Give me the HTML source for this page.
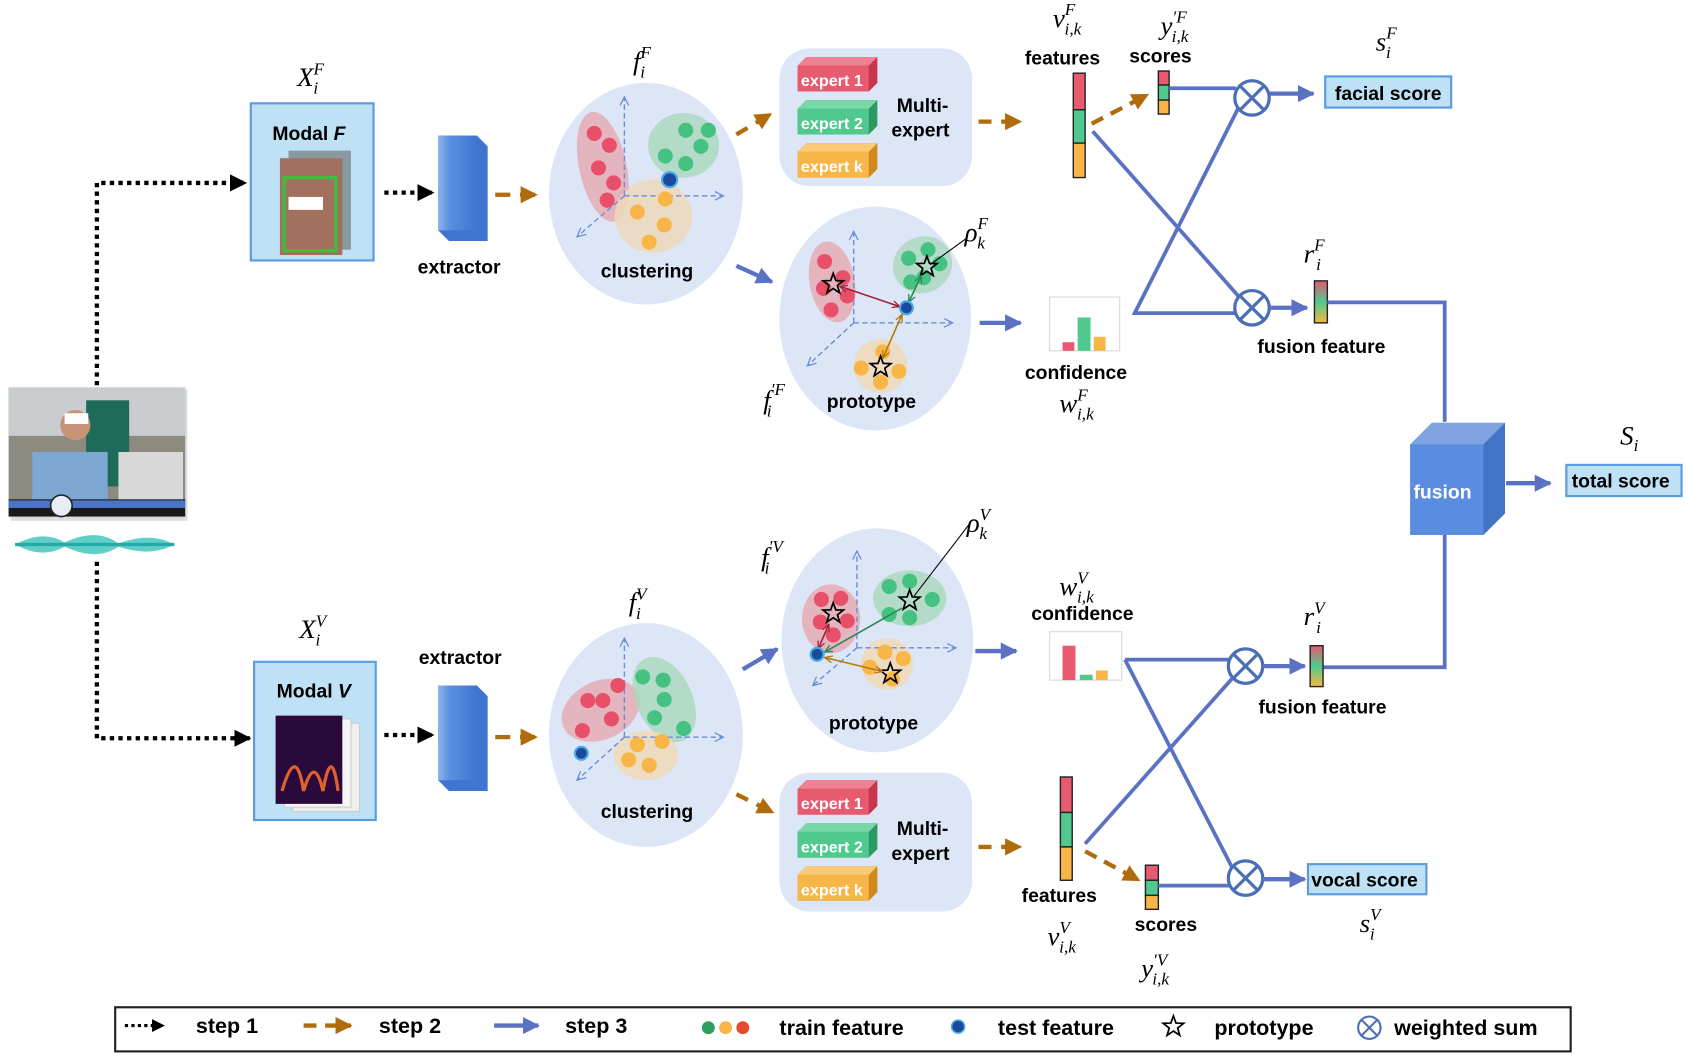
<!DOCTYPE html>
<html><head><meta charset="utf-8"><style>
html,body{margin:0;padding:0;background:#fff;}
svg{display:block;}
.b{font-family:"Liberation Sans",sans-serif;font-weight:bold;font-size:18px;fill:#000;}
.w{font-family:"Liberation Sans",sans-serif;font-weight:bold;font-size:15px;fill:#fff;}
.m{font-family:"Liberation Serif",serif;font-style:italic;font-size:25px;fill:#000;}
.s{font-size:16px;}
</style></head><body>
<svg width="1688" height="1060" viewBox="0 0 1568 985" preserveAspectRatio="none" xmlns="http://www.w3.org/2000/svg">
<defs>
<marker id="ab" viewBox="0 0 10 10" refX="9" refY="5" markerWidth="4" markerHeight="4" orient="auto" markerUnits="strokeWidth"><path d="M0,0L10,5L0,10z" fill="#5b72c4"/></marker>
<marker id="ao" viewBox="0 0 10 10" refX="9" refY="5" markerWidth="4" markerHeight="4" orient="auto" markerUnits="strokeWidth"><path d="M0,0L10,5L0,10z" fill="#b06c0c"/></marker>
<marker id="ak" viewBox="0 0 10 10" refX="9" refY="5" markerWidth="4" markerHeight="4" orient="auto" markerUnits="strokeWidth"><path d="M0,0L10,5L0,10z" fill="#000"/></marker>
<marker id="ad" viewBox="0 0 10 10" refX="9" refY="5" markerWidth="10" markerHeight="10" orient="auto" markerUnits="userSpaceOnUse"><path d="M1,1L9,5L1,9" fill="none" stroke="#6a8fd8" stroke-width="1.2"/></marker>
<marker id="ar" viewBox="0 0 10 10" refX="9" refY="5" markerWidth="8" markerHeight="8" orient="auto-start-reverse" markerUnits="userSpaceOnUse"><path d="M0,1L9,5L0,9" fill="none" stroke="#a0203a" stroke-width="1.5"/></marker>
<marker id="ag" viewBox="0 0 10 10" refX="9" refY="5" markerWidth="8" markerHeight="8" orient="auto-start-reverse" markerUnits="userSpaceOnUse"><path d="M0,1L9,5L0,9" fill="none" stroke="#2a8a55" stroke-width="1.5"/></marker>
<marker id="ay" viewBox="0 0 10 10" refX="9" refY="5" markerWidth="8" markerHeight="8" orient="auto-start-reverse" markerUnits="userSpaceOnUse"><path d="M0,1L9,5L0,9" fill="none" stroke="#b8780c" stroke-width="1.5"/></marker>
<linearGradient id="gf" x1="0" y1="0" x2="0" y2="1"><stop offset="0" stop-color="#e8586e"/><stop offset="0.5" stop-color="#4fc98e"/><stop offset="1" stop-color="#f5b840"/></linearGradient>
<linearGradient id="ex" x1="0" y1="0" x2="1" y2="0"><stop offset="0" stop-color="#8fb3ea"/><stop offset="0.3" stop-color="#5b8fe0"/><stop offset="1" stop-color="#3f75d0"/></linearGradient>
<g id="star"><path d="M0,-10L2.4,-3.3L9.5,-3.1L3.9,1.3L5.9,8.1L0,4.1L-5.9,8.1L-3.9,1.3L-9.5,-3.1L-2.4,-3.3Z" fill="none" stroke="#000" stroke-width="1.6"/></g>
<g id="ot"><circle r="16" fill="#fff" stroke="#4a6fb5" stroke-width="3"/><path d="M-11.3,-11.3L11.3,11.3M11.3,-11.3L-11.3,11.3" stroke="#4a6fb5" stroke-width="3"/></g>
<g id="exp">
<path d="M0,8L8,0L74,0L74,24L66,32L0,32Z" fill="#c8364e"/>
</g>
</defs>

<!-- video thumbnail -->
<rect x="10" y="362" width="164" height="122" fill="#bbb" opacity="0.5"/>
<rect x="8" y="360" width="164" height="120" fill="#8d8a80"/>
<rect x="8" y="360" width="164" height="45" fill="#c9cdd0"/>
<rect x="80" y="372" width="40" height="80" fill="#1e6b5a"/>
<rect x="30" y="420" width="70" height="48" fill="#7ea8d4"/>
<rect x="110" y="420" width="60" height="45" fill="#d8d8d8"/>
<circle cx="70" cy="395" r="14" fill="#c89478"/>
<rect x="60" y="384" width="22" height="10" fill="#fff"/>
<rect x="8" y="464" width="164" height="16" fill="#1a1a1a"/>
<rect x="8" y="465" width="164" height="7" fill="#4a74c8"/>
<circle cx="57" cy="470" r="10" fill="#e8ecf6" stroke="#222" stroke-width="1.5"/>
<path d="M14,506 Q40,492 60,504 Q90,490 110,505 Q140,494 162,506 Q140,518 110,508 Q90,522 60,508 Q40,520 14,506Z" fill="#2bbfb5" opacity="0.75"/>
<path d="M14,506L162,506" stroke="#27a9a8" stroke-width="3"/>

<!-- dotted step1 -->
<path d="M90,358V170H228" fill="none" stroke="#000" stroke-width="4" stroke-dasharray="4,4" marker-end="url(#ak)"/>
<path d="M90,522V686H232" fill="none" stroke="#000" stroke-width="4" stroke-dasharray="4,4" marker-end="url(#ak)"/>

<!-- Modal F -->
<text class="m" x="276" y="80">X<tspan class="s" dy="-11">F</tspan><tspan class="s" dx="-10" dy="18">i</tspan></text>
<rect x="233" y="96" width="114" height="146" fill="#bfe1f5" stroke="#5b9be0" stroke-width="2"/>
<text class="b" x="253" y="130">Modal <tspan font-style="italic">F</tspan></text>
<rect x="268" y="140" width="58" height="92" fill="#8899a0"/>
<rect x="260" y="147" width="58" height="90" fill="#a37060"/>
<rect x="264" y="165" width="48" height="68" fill="none" stroke="#3cbf3c" stroke-width="3"/>
<rect x="268" y="183" width="32" height="12" fill="#fff"/>

<path d="M357,179H402" stroke="#000" stroke-width="4" stroke-dasharray="4,4" marker-end="url(#ak)"/>
<!-- extractor F -->
<path d="M407,126L443,126L453,136L453,224L417,224L407,214Z" fill="#3f75d0"/>
<rect x="407" y="126" width="36" height="88" fill="url(#ex)"/>
<text class="b" x="388" y="254">extractor</text>
<path d="M460,181H498" stroke="#b06c0c" stroke-width="4" stroke-dasharray="14,9" marker-end="url(#ao)"/>

<!-- clustering F -->
<text class="m" x="588" y="65">f<tspan class="s" dy="-11">F</tspan><tspan class="s" dx="-10" dy="18">i</tspan></text>
<ellipse cx="600" cy="180" rx="90" ry="103" fill="#dce6f6"/>
<ellipse cx="560" cy="155" rx="22" ry="52" transform="rotate(-12 560 155)" fill="#e8a0a8" opacity="0.7"/>
<ellipse cx="635" cy="135" rx="33" ry="30" fill="#a9d8bd" opacity="0.8"/>
<ellipse cx="607" cy="201" rx="36" ry="34" fill="#f0d8b8" opacity="0.8"/>
<path d="M580,182V90" stroke="#6a8fd8" stroke-width="1.3" stroke-dasharray="5,3" marker-end="url(#ad)"/>
<path d="M580,182H672" stroke="#6a8fd8" stroke-width="1.3" stroke-dasharray="5,3" marker-end="url(#ad)"/>
<path d="M580,182L536,220" stroke="#6a8fd8" stroke-width="1.3" stroke-dasharray="5,3" marker-end="url(#ad)"/>
<g fill="#e8506a"><circle cx="552" cy="124" r="7"/><circle cx="566" cy="135" r="7"/><circle cx="556" cy="156" r="7"/><circle cx="570" cy="170" r="7"/><circle cx="564" cy="186" r="7"/></g>
<g fill="#45c182"><circle cx="637" cy="121" r="7"/><circle cx="658" cy="121" r="7"/><circle cx="651" cy="136" r="7"/><circle cx="618" cy="145" r="7"/><circle cx="637" cy="152" r="7"/></g>
<g fill="#f8b648"><circle cx="618" cy="185" r="7"/><circle cx="592" cy="197" r="7"/><circle cx="617" cy="209" r="7"/><circle cx="603" cy="225" r="7"/></g>
<circle cx="622" cy="167" r="7" fill="#1a4a9a" stroke="#4aa8e8" stroke-width="2"/>
<text class="b" x="558" y="258">clustering</text>

<path d="M684,125L716,106" stroke="#b06c0c" stroke-width="4" stroke-dasharray="12,9" marker-end="url(#ao)"/>
<path d="M684,247L717,262" stroke="#5b72c4" stroke-width="4" marker-end="url(#ab)"/>

<!-- multi-expert F -->
<rect x="724" y="45" width="179" height="128" rx="28" fill="#dce6f6"/>
<g>
<path d="M741,61L749,53H815V77L807,85H741Z" fill="#c8364e"/><rect x="741" y="61" width="66" height="24" fill="#e85a70"/><path d="M741,61L749,53H815L807,61Z" fill="#ef8292"/>
<text class="w" x="744" y="80">expert 1</text>
<path d="M741,101L749,93H815V117L807,125H741Z" fill="#2d9a62"/><rect x="741" y="101" width="66" height="24" fill="#4fc98e"/><path d="M741,101L749,93H815L807,101Z" fill="#78d8a8"/>
<text class="w" x="744" y="120">expert 2</text>
<path d="M741,141L749,133H815V157L807,165H741Z" fill="#d08a1c"/><rect x="741" y="141" width="66" height="24" fill="#f8b648"/><path d="M741,141L749,133H815L807,141Z" fill="#fbcb78"/>
<text class="w" x="744" y="160">expert k</text>
</g>
<text class="b" x="833" y="104">Multi-</text>
<text class="b" x="828" y="127">expert</text>
<path d="M909,113H948" stroke="#b06c0c" stroke-width="4" stroke-dasharray="12,9" marker-end="url(#ao)"/>

<!-- prototype F -->
<ellipse cx="813" cy="296" rx="89" ry="104" fill="#dce6f6"/>
<ellipse cx="773" cy="262" rx="21" ry="38" transform="rotate(-10 773 262)" fill="#e8a0a8" opacity="0.7"/>
<ellipse cx="857" cy="246" rx="28" ry="26" transform="rotate(-30 857 246)" fill="#a9d8bd" opacity="0.8"/>
<circle cx="818" cy="340" r="25" fill="#f0d8b8" opacity="0.85"/>
<path d="M793,300V215" stroke="#6a8fd8" stroke-width="1.3" stroke-dasharray="5,3" marker-end="url(#ad)"/>
<path d="M793,300H885" stroke="#6a8fd8" stroke-width="1.3" stroke-dasharray="5,3" marker-end="url(#ad)"/>
<path d="M793,300L750,340" stroke="#6a8fd8" stroke-width="1.3" stroke-dasharray="5,3" marker-end="url(#ad)"/>
<g fill="#e8506a"><circle cx="766" cy="243" r="7"/><circle cx="783" cy="258" r="7"/><circle cx="765" cy="268" r="7"/><circle cx="787" cy="275" r="7"/><circle cx="772" cy="288" r="7"/></g>
<g fill="#45c182"><circle cx="862" cy="232" r="7"/><circle cx="844" cy="240" r="7"/><circle cx="873" cy="245" r="7"/><circle cx="846" cy="262" r="7"/><circle cx="858" cy="258" r="7"/></g>
<g fill="#f8b648"><circle cx="820" cy="327" r="7"/><circle cx="800" cy="342" r="7"/><circle cx="835" cy="345" r="7"/><circle cx="818" cy="355" r="7"/></g>
<use href="#star" x="774" y="264"/><use href="#star" x="861" y="248"/><use href="#star" x="818" y="341"/>
<path d="M780,266L836,285" stroke="#a0203a" stroke-width="1.5" marker-start="url(#ar)" marker-end="url(#ar)"/>
<path d="M856,256L844,281" stroke="#2a8a55" stroke-width="1.5" marker-start="url(#ag)" marker-end="url(#ag)"/>
<path d="M838,292L820,333" stroke="#b8780c" stroke-width="1.5" marker-start="url(#ay)" marker-end="url(#ay)"/>
<circle cx="842" cy="286" r="6" fill="#1a4a9a" stroke="#4aa8e8" stroke-width="2"/>
<path d="M864,246L897,222" stroke="#000" stroke-width="1"/>
<text class="m" x="896" y="224">ρ<tspan class="s" dy="-11">F</tspan><tspan class="s" dx="-10" dy="18">k</tspan></text>
<text class="m" x="709" y="380">f<tspan class="s" dy="-13">′F</tspan><tspan class="s" dx="-17" dy="20">i</tspan></text>
<text class="b" x="768" y="379">prototype</text>
<path d="M910,300H948" stroke="#5b72c4" stroke-width="4" marker-end="url(#ab)"/>

<!-- features / scores F -->
<text class="m" x="978" y="25">v<tspan class="s" dy="-11">F</tspan><tspan class="s" dx="-10" dy="18">i,k</tspan></text>
<text class="b" x="952" y="60">features</text>
<rect x="997" y="68" width="11" height="34" fill="#e85a70" stroke="#222" stroke-width="1.3"/>
<rect x="997" y="102" width="11" height="31" fill="#4fc98e" stroke="#222" stroke-width="1.3"/>
<rect x="997" y="133" width="11" height="32" fill="#f8b648" stroke="#222" stroke-width="1.3"/>
<text class="m" x="1078" y="32">y<tspan class="s" dy="-11">′F</tspan><tspan class="s" dx="-14" dy="18">i,k</tspan></text>
<text class="b" x="1049" y="58">scores</text>
<rect x="1076" y="66" width="10" height="13" fill="#e85a70" stroke="#222" stroke-width="1.3"/>
<rect x="1076" y="79" width="10" height="14" fill="#4fc98e" stroke="#222" stroke-width="1.3"/>
<rect x="1076" y="93" width="10" height="13" fill="#f8b648" stroke="#222" stroke-width="1.3"/>
<path d="M1014,115L1066,88" stroke="#b06c0c" stroke-width="4" stroke-dasharray="12,8" marker-end="url(#ao)"/>
<path d="M1086,82H1148" stroke="#5b72c4" stroke-width="3.5"/>
<path d="M1015,122L1152,277" stroke="#5b72c4" stroke-width="3.5"/>
<path d="M1150,101L1054,291H1147" fill="none" stroke="#5b72c4" stroke-width="3.5"/>
<use href="#ot" x="1163" y="91"/><use href="#ot" x="1163" y="286"/>
<path d="M1179,87H1220" stroke="#5b72c4" stroke-width="4" marker-end="url(#ab)"/>
<text class="m" x="1278" y="47">s<tspan class="s" dy="-11">F</tspan><tspan class="s" dx="-10" dy="18">i</tspan></text>
<rect x="1231" y="71" width="117" height="29" fill="#bfe1f5" stroke="#5b9be0" stroke-width="2"/>
<text class="b" x="1240" y="93">facial score</text>
<!-- confidence F -->
<rect x="975" y="276" width="65" height="50" fill="#fff" stroke="#ddd" stroke-width="1.2"/>
<rect x="987" y="318" width="11" height="8" fill="#e85a70"/><rect x="1001" y="295" width="12" height="31" fill="#4fc98e"/><rect x="1016" y="313" width="11" height="13" fill="#f8b648"/>
<text class="b" x="952" y="352">confidence</text>
<text class="m" x="984" y="383">w<tspan class="s" dy="-11">F</tspan><tspan class="s" dx="-10" dy="18">i,k</tspan></text>
<path d="M1179,286H1214" stroke="#5b72c4" stroke-width="4" marker-end="url(#ab)"/>
<text class="m" x="1211" y="244">r<tspan class="s" dy="-11">F</tspan><tspan class="s" dx="-8" dy="18">i</tspan></text>
<rect x="1221" y="261" width="12" height="39" fill="url(#gf)" stroke="#222" stroke-width="1.3"/>
<text class="b" x="1168" y="328">fusion feature</text>
<path d="M1233,281H1342V392" fill="none" stroke="#5b72c4" stroke-width="3.5"/>

<!-- fusion -->
<path d="M1310,413L1330,393H1398V477L1378,497H1310Z" fill="#3f6fc0"/>
<path d="M1310,413L1330,393H1398L1378,413Z" fill="#7ea3e0"/>
<rect x="1310" y="413" width="68" height="84" fill="#5a8de0"/>
<path d="M1378,413L1398,393V477L1378,497Z" fill="#4373c4"/>
<text x="1313" y="463" style="font-family:'Liberation Sans',sans-serif;font-weight:bold;font-size:18px;fill:#fff">fusion</text>
<path d="M1399,449H1440" stroke="#5b72c4" stroke-width="4" marker-end="url(#ab)"/>
<text class="m" x="1505" y="413">S<tspan class="s" dx="0" dy="6">i</tspan></text>
<rect x="1455" y="432" width="107" height="29" fill="#bfe1f5" stroke="#5b9be0" stroke-width="2"/>
<text class="b" x="1460" y="453">total score</text>
<path d="M1342,497V620H1229" fill="none" stroke="#5b72c4" stroke-width="3.5"/>

<!-- Modal V -->
<text class="m" x="278" y="593">X<tspan class="s" dy="-11">V</tspan><tspan class="s" dx="-10" dy="18">i</tspan></text>
<rect x="236" y="615" width="113" height="147" fill="#bfe1f5" stroke="#5b9be0" stroke-width="2"/>
<text class="b" x="257" y="648">Modal <tspan font-style="italic">V</tspan></text>
<rect x="272" y="672" width="62" height="82" fill="#eee" stroke="#ccc"/>
<rect x="264" y="668" width="62" height="82" fill="#f5f5f5" stroke="#ccc"/>
<rect x="256" y="665" width="62" height="82" fill="#2a0a3a"/>
<path d="M262,735Q275,690 282,735Q292,700 300,735Q308,690 314,735" fill="none" stroke="#e06030" stroke-width="3"/>
<path d="M357,683H402" stroke="#000" stroke-width="4" stroke-dasharray="4,4" marker-end="url(#ak)"/>
<path d="M407,637L443,637L453,647L453,735L417,735L407,725Z" fill="#3f75d0"/>
<rect x="407" y="637" width="36" height="88" fill="url(#ex)"/>
<text class="b" x="389" y="617">extractor</text>
<path d="M460,685H498" stroke="#b06c0c" stroke-width="4" stroke-dasharray="14,9" marker-end="url(#ao)"/>

<!-- clustering V -->
<text class="m" x="584" y="568">f<tspan class="s" dy="-11">V</tspan><tspan class="s" dx="-10" dy="18">i</tspan></text>
<ellipse cx="600" cy="683" rx="90" ry="104" fill="#dce6f6"/>
<ellipse cx="558" cy="660" rx="38" ry="27" transform="rotate(-25 558 660)" fill="#e8a0a8" opacity="0.7"/>
<ellipse cx="617" cy="650" rx="26" ry="42" transform="rotate(-25 617 650)" fill="#a9d8bd" opacity="0.8"/>
<ellipse cx="600" cy="702" rx="30" ry="23" fill="#f0d8b8" opacity="0.85"/>
<path d="M580,685V593" stroke="#6a8fd8" stroke-width="1.3" stroke-dasharray="5,3" marker-end="url(#ad)"/>
<path d="M580,685H672" stroke="#6a8fd8" stroke-width="1.3" stroke-dasharray="5,3" marker-end="url(#ad)"/>
<path d="M580,685L536,725" stroke="#6a8fd8" stroke-width="1.3" stroke-dasharray="5,3" marker-end="url(#ad)"/>
<g fill="#e8506a"><circle cx="574" cy="637" r="7"/><circle cx="546" cy="651" r="7"/><circle cx="560" cy="651" r="7"/><circle cx="568" cy="668" r="7"/><circle cx="541" cy="679" r="7"/></g>
<g fill="#45c182"><circle cx="597" cy="629" r="7"/><circle cx="616" cy="632" r="7"/><circle cx="617" cy="650" r="7"/><circle cx="608" cy="667" r="7"/><circle cx="635" cy="677" r="7"/></g>
<g fill="#f8b648"><circle cx="615" cy="689" r="7"/><circle cx="592" cy="692" r="7"/><circle cx="584" cy="706" r="7"/><circle cx="603" cy="711" r="7"/></g>
<circle cx="540" cy="700" r="6" fill="#1a4a9a" stroke="#4aa8e8" stroke-width="2"/>
<text class="b" x="558" y="760">clustering</text>
<path d="M690,622L722,603" stroke="#5b72c4" stroke-width="4" marker-end="url(#ab)"/>
<path d="M684,738L718,755" stroke="#b06c0c" stroke-width="4" stroke-dasharray="12,9" marker-end="url(#ao)"/>

<!-- prototype V -->
<ellipse cx="815" cy="595" rx="89" ry="104" fill="#dce6f6"/>
<ellipse cx="772" cy="575" rx="27" ry="32" fill="#e8a0a8" opacity="0.7"/>
<ellipse cx="845" cy="556" rx="34" ry="26" fill="#a9d8bd" opacity="0.8"/>
<circle cx="824" cy="617" r="24" fill="#f0d8b8" opacity="0.85"/>
<path d="M796,602V512" stroke="#6a8fd8" stroke-width="1.3" stroke-dasharray="5,3" marker-end="url(#ad)"/>
<path d="M796,602H888" stroke="#6a8fd8" stroke-width="1.3" stroke-dasharray="5,3" marker-end="url(#ad)"/>
<path d="M796,602L755,637" stroke="#6a8fd8" stroke-width="1.3" stroke-dasharray="5,3" marker-end="url(#ad)"/>
<g fill="#e8506a"><circle cx="763" cy="557" r="7"/><circle cx="781" cy="556" r="7"/><circle cx="762" cy="578" r="7"/><circle cx="787" cy="577" r="7"/><circle cx="774" cy="590" r="7"/></g>
<g fill="#45c182"><circle cx="826" cy="545" r="7"/><circle cx="845" cy="540" r="7"/><circle cx="866" cy="557" r="7"/><circle cx="826" cy="571" r="7"/><circle cx="845" cy="574" r="7"/></g>
<g fill="#f8b648"><circle cx="822" cy="606" r="7"/><circle cx="839" cy="612" r="7"/><circle cx="808" cy="620" r="7"/><circle cx="829" cy="631" r="7"/></g>
<use href="#star" x="774" y="570"/><use href="#star" x="845" y="558"/><use href="#star" x="827" y="626"/>
<path d="M770,580L760,603" stroke="#a0203a" stroke-width="1.5" marker-start="url(#ar)" marker-end="url(#ar)"/>
<path d="M838,565L766,606" stroke="#2a8a55" stroke-width="1.5" marker-end="url(#ag)"/>
<path d="M820,624L766,611" stroke="#b8780c" stroke-width="1.5" marker-start="url(#ay)" marker-end="url(#ay)"/>
<circle cx="759" cy="608" r="6" fill="#1a4a9a" stroke="#4aa8e8" stroke-width="2"/>
<path d="M849,554L902,485" stroke="#000" stroke-width="1"/>
<text class="m" x="898" y="494">ρ<tspan class="s" dy="-11">V</tspan><tspan class="s" dx="-10" dy="18">k</tspan></text>
<text class="m" x="707" y="526">f<tspan class="s" dy="-13">′V</tspan><tspan class="s" dx="-17" dy="20">i</tspan></text>
<text class="b" x="770" y="678">prototype</text>
<path d="M906,605H944" stroke="#5b72c4" stroke-width="4" marker-end="url(#ab)"/>

<!-- multi-expert V -->
<rect x="724" y="718" width="179" height="129" rx="28" fill="#dce6f6"/>
<g>
<path d="M741,733L749,725H815V749L807,757H741Z" fill="#c8364e"/><rect x="741" y="733" width="66" height="24" fill="#e85a70"/><path d="M741,733L749,725H815L807,733Z" fill="#ef8292"/>
<text class="w" x="744" y="752">expert 1</text>
<path d="M741,773L749,765H815V789L807,797H741Z" fill="#2d9a62"/><rect x="741" y="773" width="66" height="24" fill="#4fc98e"/><path d="M741,773L749,765H815L807,773Z" fill="#78d8a8"/>
<text class="w" x="744" y="792">expert 2</text>
<path d="M741,813L749,805H815V829L807,837H741Z" fill="#d08a1c"/><rect x="741" y="813" width="66" height="24" fill="#f8b648"/><path d="M741,813L749,805H815L807,813Z" fill="#fbcb78"/>
<text class="w" x="744" y="832">expert k</text>
</g>
<text class="b" x="833" y="776">Multi-</text>
<text class="b" x="828" y="799">expert</text>
<path d="M909,787H948" stroke="#b06c0c" stroke-width="4" stroke-dasharray="12,9" marker-end="url(#ao)"/>

<!-- conf V -->
<text class="m" x="984" y="553">w<tspan class="s" dy="-11">V</tspan><tspan class="s" dx="-10" dy="18">i,k</tspan></text>
<text class="b" x="958" y="576">confidence</text>
<rect x="975" y="587" width="67" height="45" fill="#fff" stroke="#ddd" stroke-width="1.2"/>
<rect x="987" y="600" width="12" height="32" fill="#e85a70"/><rect x="1003" y="627" width="12" height="5" fill="#4fc98e"/><rect x="1018" y="623" width="11" height="9" fill="#f8b648"/>
<path d="M1045,613H1143" stroke="#5b72c4" stroke-width="3.5"/>
<path d="M1045,613L1145,807" stroke="#5b72c4" stroke-width="3.5"/>
<path d="M1008,784L1145,630" stroke="#5b72c4" stroke-width="3.5"/>
<use href="#ot" x="1157" y="619"/><use href="#ot" x="1157" y="816"/>
<path d="M1173,619H1212" stroke="#5b72c4" stroke-width="4" marker-end="url(#ab)"/>
<text class="m" x="1211" y="581">r<tspan class="s" dy="-11">V</tspan><tspan class="s" dx="-8" dy="18">i</tspan></text>
<rect x="1217" y="600" width="12" height="38" fill="url(#gf)" stroke="#222" stroke-width="1.3"/>
<text class="b" x="1169" y="663">fusion feature</text>

<!-- features/scores V -->
<rect x="985" y="722" width="11" height="33" fill="#e85a70" stroke="#222" stroke-width="1.3"/>
<rect x="985" y="755" width="11" height="32" fill="#4fc98e" stroke="#222" stroke-width="1.3"/>
<rect x="985" y="787" width="11" height="31" fill="#f8b648" stroke="#222" stroke-width="1.3"/>
<text class="b" x="949" y="838">features</text>
<text class="m" x="973" y="878">v<tspan class="s" dy="-11">V</tspan><tspan class="s" dx="-10" dy="18">i,k</tspan></text>
<path d="M1008,791L1058,818" stroke="#b06c0c" stroke-width="4" stroke-dasharray="12,8" marker-end="url(#ao)"/>
<rect x="1064" y="804" width="12" height="14" fill="#e85a70" stroke="#222" stroke-width="1.3"/>
<rect x="1064" y="818" width="12" height="14" fill="#4fc98e" stroke="#222" stroke-width="1.3"/>
<rect x="1064" y="832" width="12" height="13" fill="#f8b648" stroke="#222" stroke-width="1.3"/>
<path d="M1076,823H1142" stroke="#5b72c4" stroke-width="3.5"/>
<text class="b" x="1054" y="865">scores</text>
<text class="m" x="1060" y="908">y<tspan class="s" dy="-11">′V</tspan><tspan class="s" dx="-14" dy="18">i,k</tspan></text>
<path d="M1173,817H1212" stroke="#5b72c4" stroke-width="4" marker-end="url(#ab)"/>
<rect x="1215" y="803" width="110" height="28" fill="#bfe1f5" stroke="#5b9be0" stroke-width="2"/>
<text class="b" x="1218" y="824">vocal score</text>
<text class="m" x="1263" y="866">s<tspan class="s" dy="-11">V</tspan><tspan class="s" dx="-10" dy="18">i</tspan></text>

<!-- legend -->
<rect x="107" y="936" width="1352" height="41" fill="#fff" stroke="#222" stroke-width="2"/>
<path d="M116,953H152" stroke="#000" stroke-width="3" stroke-dasharray="3,3" marker-end="url(#ak)"/>
<text class="b" x="182" y="960" style="font-size:20px">step 1</text>
<path d="M282,953H326" stroke="#b06c0c" stroke-width="4" stroke-dasharray="12,8" marker-end="url(#ao)"/>
<text class="b" x="352" y="960" style="font-size:20px">step 2</text>
<path d="M459,953H500" stroke="#5b72c4" stroke-width="4" marker-end="url(#ab)"/>
<text class="b" x="525" y="960" style="font-size:20px">step 3</text>
<circle cx="658" cy="955" r="6" fill="#2e9e62"/><circle cx="674" cy="955" r="6" fill="#f8b648"/><circle cx="690" cy="955" r="6" fill="#e84a30"/>
<text class="b" x="724" y="962" style="font-size:20px">train feature</text>
<circle cx="890" cy="954" r="6" fill="#1a4a9a" stroke="#4aa8e8" stroke-width="1.5"/>
<text class="b" x="927" y="962" style="font-size:20px">test feature</text>
<use href="#star" x="1090" y="954"/>
<text class="b" x="1128" y="962" style="font-size:20px">prototype</text>
<g transform="translate(1272,955) scale(0.65)"><use href="#ot"/></g>
<text class="b" x="1295" y="962" style="font-size:20px">weighted sum</text>
</svg>
</body></html>
